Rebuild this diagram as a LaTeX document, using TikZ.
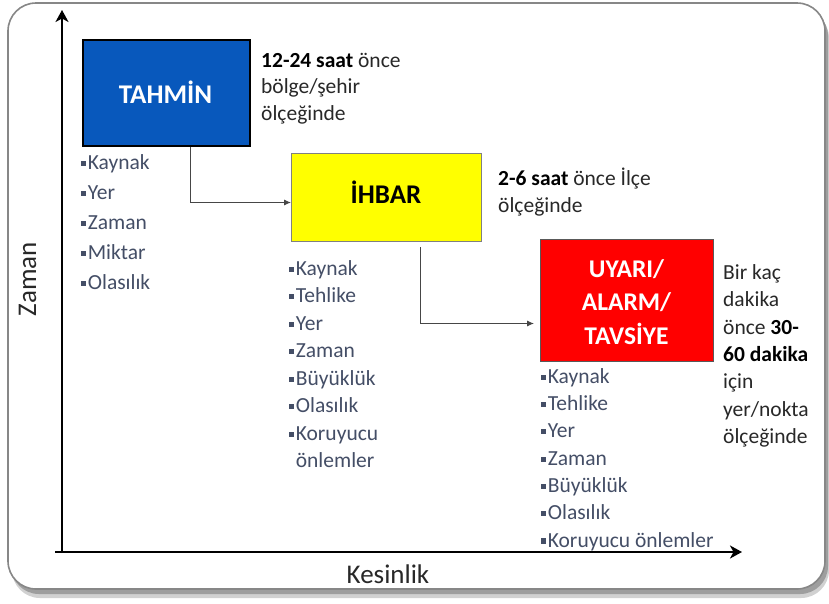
\documentclass[tikz,border=0pt]{standalone}
\usepackage{fontspec}
\setmainfont{Carlito}
\usetikzlibrary{arrows.meta}

\definecolor{tahminblue}{RGB}{8,88,188}
\definecolor{ihbaryellow}{RGB}{255,255,0}
\definecolor{uyarired}{RGB}{255,0,0}
\definecolor{listcol}{RGB}{68,78,102}
\definecolor{desccol}{RGB}{40,40,40}
\definecolor{framecol}{RGB}{135,135,135}
\definecolor{linkcol}{RGB}{70,70,70}

% invisible strut that fixes the height of a block's first line
\newcommand\tstrut{\rule{0pt}{22pt}}
% small square list bullet
\newcommand\bul{\rule[0.16em]{0.24em}{0.24em}\hspace{0.07em}}

\tikzset{
  stagebox/.style={rectangle, anchor=north west, inner sep=0pt},
  boxlabel/.style={inner sep=0pt, font=\fontsize{27}{30}\selectfont\bfseries},
  itemlist/.style={anchor=north west, inner sep=0pt, align=left, text=listcol},
  desc/.style={anchor=north west, inner sep=0pt, align=left, text=desccol},
  axislabel/.style={inner sep=0pt, anchor=base, text=desccol, font=\fontsize{27}{30}\selectfont},
  axis/.style={line width=2.5pt, -{Stealth[length=12pt,width=13pt,inset=3.5pt]}},
  link/.style={draw=linkcol, line width=0.9pt, -{Latex[length=7pt,width=6pt]}},
}

\begin{document}
\begin{tikzpicture}[x=1pt,y=-1pt]
  \useasboundingbox (0,0) rectangle (829,603);

  % panel with drop shadow
  \fill[black!18, rounded corners=28pt] (12,10) rectangle (829,598);
  \fill[black!38, rounded corners=28pt] (11,8) rectangle (828,594);
  \filldraw[fill=white, draw=framecol, line width=1.6pt, rounded corners=28pt]
    (8,3) rectangle (825,589);

  % axes
  \coordinate (xstart) at (55,552);
  \coordinate (xend) at (742,552);
  \coordinate (ystart) at (62,553);
  \coordinate (yend) at (62,10);
  \draw[axis] (xstart) -- (xend);
  \draw[axis] (ystart) -- (yend);
  \node[axislabel, rotate=90] (zaman) at (36,279) {Zaman};
  \node[axislabel] (kesinlik) at (388,583) {Kesinlik};

  % stage boxes
  \node[stagebox, draw=black, line width=2pt, fill=tahminblue,
        minimum width=167pt, minimum height=106pt] (tahmin) at (82,39) {};
  \node[stagebox, draw=black!50, line width=1pt, fill=ihbaryellow,
        minimum width=190pt, minimum height=88pt] (ihbar) at (291,153) {};
  \node[stagebox, draw=black!65, line width=1pt, fill=uyarired,
        minimum width=173pt, minimum height=122pt] (uyari) at (540,239) {};

  \node[boxlabel, anchor=base, text=white] (tahminlbl) at (165.5,103) {TAHMİN};
  \node[boxlabel, anchor=base, text=black] (ihbarlbl) at (386,203) {İHBAR};
  \node[inner sep=0pt, anchor=north, align=center, text=white,
        font=\fontsize{25.5}{33.5}\selectfont\bfseries] (uyarilbl) at (626.5,255)
        {\tstrut UYARI/\\ALARM/\\TAVSİYE};

  % connectors between the stages
  \draw[link] ([xshift=23.5pt]tahmin.south) |- ([yshift=-5pt]ihbar.west);
  \draw[link, shorten <=5pt, shorten >=6pt] ([xshift=34pt]ihbar.south) |- ([yshift=-23pt]uyari.west);

  % descriptions beside each box
  \node[desc, font=\fontsize{21.5}{26.5}\selectfont] (tahmindesc) at (261,45)
    {\tstrut\textbf{\color{black}12-24 saat} önce\\bölge/şehir\\ölçeğinde};
  \node[desc, font=\fontsize{21.5}{27}\selectfont] (ihbardesc) at (498,163)
    {\tstrut\textbf{\color{black}2-6 saat} önce İlçe\\ölçeğinde};
  \node[desc, font=\fontsize{21.5}{27.4}\selectfont] (uyaridesc) at (723,257)
    {\tstrut Bir kaç\\dakika\\önce \textbf{\color{black}30-}\\\textbf{\color{black}60 dakika}\\için\\yer/nokta\\ölçeğinde};

  % item lists under each box
  \node[itemlist, font=\fontsize{21.5}{30}\selectfont] (tahminlist) at (81,147)
    {\tstrut\bul Kaynak\\\bul Yer\\\bul Zaman\\\bul Miktar\\\bul Olasılık};
  \node[itemlist, font=\fontsize{21.5}{27.5}\selectfont] (ihbarlist) at (289,253)
    {\tstrut\bul Kaynak\\\bul Tehlike\\\bul Yer\\\bul Zaman\\\bul Büyüklük\\\bul Olasılık\\\bul Koruyucu\\\phantom{\bul}önlemler};
  \node[itemlist, font=\fontsize{21.5}{27.3}\selectfont] (uyarilist) at (541,361)
    {\tstrut\bul Kaynak\\\bul Tehlike\\\bul Yer\\\bul Zaman\\\bul Büyüklük\\\bul Olasılık\\\bul Koruyucu önlemler};
\end{tikzpicture}
\end{document}
